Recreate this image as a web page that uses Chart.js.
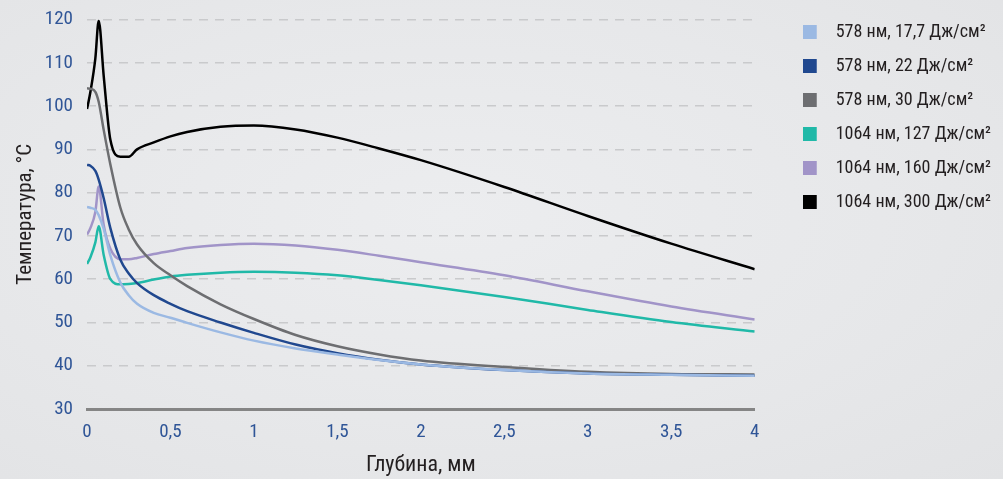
<!DOCTYPE html>
<html>
<head>
<meta charset="utf-8">
<script src="https://cdn.jsdelivr.net/npm/chart.js@4/dist/chart.umd.min.js"></script>
<style>
  html, body { margin: 0; padding: 0; }
  body {
    width: 1003px; height: 479px; overflow: hidden;
    background: radial-gradient(ellipse at 45% 45%, #ecedef 0%, #e7e8ea 55%, #e2e3e5 100%);
  }
  #wrap { position: relative; width: 1003px; height: 479px; }
</style>
</head>
<body>
<div id="wrap"><canvas id="chart"></canvas></div>
<script>
// Depth, mm (shared x values for every series)
const depth = [0, 0.02, 0.05, 0.07, 0.1, 0.14, 0.2, 0.25, 0.3, 0.4, 0.5, 0.6, 0.8, 1.0, 1.25, 1.5, 1.75, 2.0, 2.5, 3.0, 3.5, 4.0];

// Temperature, °C
const t578_17 = [76.7, 76.5, 76.0, 74.8, 71.6, 65.5, 59.2, 56.3, 54.3, 52.2, 51.1, 49.9, 47.7, 45.8, 44.0, 42.6, 41.3, 40.3, 39.0, 38.2, 37.9, 37.7];
const t578_22 = [86.4, 86.2, 85.0, 83.0, 78.7, 71.8, 64.5, 61.3, 59.1, 56.3, 54.3, 52.6, 50.0, 47.6, 44.9, 42.9, 41.4, 40.3, 39.0, 38.2, 37.9, 37.7];
const t578_30 = [104.1, 104.0, 103.3, 101.0, 94.5, 86.5, 76.5, 71.5, 68.0, 63.7, 60.9, 58.4, 54.2, 50.8, 47.1, 44.5, 42.6, 41.2, 39.7, 38.6, 38.1, 38.0];
const t1064_127 = [63.5, 65.0, 68.5, 72.2, 65.6, 60.0, 58.8, 58.9, 59.1, 59.9, 60.6, 61.0, 61.5, 61.7, 61.5, 60.9, 59.8, 58.6, 55.9, 52.9, 50.1, 47.9];
const t1064_160 = [70.3, 71.8, 75.5, 81.4, 72.5, 67.0, 64.6, 64.6, 64.9, 65.8, 66.5, 67.2, 67.9, 68.2, 67.8, 66.8, 65.4, 63.9, 60.9, 57.2, 53.7, 50.7];
const t1064_300 = [99.3, 103.2, 111.0, 119.7, 107.0, 92.2, 88.3, 88.3, 90.0, 91.6, 93.0, 94.0, 95.2, 95.5, 94.6, 92.7, 90.2, 87.5, 81.3, 74.6, 68.2, 62.3];

const seriesNames = [
  '578 нм, 17,7 Дж/см²',
  '578 нм, 22 Дж/см²',
  '578 нм, 30 Дж/см²',
  '1064 нм, 127 Дж/см²',
  '1064 нм, 160 Дж/см²',
  '1064 нм, 300 Дж/см²',
];
const seriesData = [t578_17, t578_22, t578_30, t1064_127, t1064_160, t1064_300];
const seriesColors = ['#9bb9e3', '#20488f', '#6d6e71', '#20b9a8', '#a194c8', '#000000'];

const FONT = '"Liberation Sans Narrow", "Roboto Condensed", "DejaVu Sans Condensed", "Arial Narrow", sans-serif';
const TICK_COLOR = '#2f5597';
const TEXT_COLOR = '#231f20';
const LEGEND_GAP = 38;

const toPoints = (vals) => vals.map((v, i) => ({ x: depth[i], y: v }));

// legend swatch: square at the left of a wider transparent image,
// so the label text sits further from the box
function swatch(color) {
  const c = document.createElement('canvas');
  c.width = 30;
  c.height = 14;
  const g = c.getContext('2d');
  g.fillStyle = color;
  g.fillRect(0, 0, 14, 14);
  return c;
}

// pushes the legend away from the plot area
const legendGap = {
  id: 'legendGap',
  beforeUpdate(chart) {
    const legend = chart.legend;
    if (!legend || legend._gapPatched) return;
    const fit = legend.fit.bind(legend);
    legend.fit = () => { fit(); legend.width += LEGEND_GAP; };
    legend._gapPatched = true;
  },
  afterLayout(chart) {
    chart.legend.left += LEGEND_GAP;
    chart.legend.top += 7;
  },
};

new Chart(document.getElementById('chart'), {
  type: 'line',
  data: {
    datasets: seriesData.map((vals, i) => ({
      label: seriesNames[i],
      data: toPoints(vals),
      borderColor: seriesColors[i],
      backgroundColor: seriesColors[i],
      borderWidth: 2.5,
      pointRadius: 0,
      pointStyle: swatch(seriesColors[i]),
      cubicInterpolationMode: 'monotone',
      fill: false,
    })),
  },
  options: {
    responsive: true,
    maintainAspectRatio: false,
    animation: false,
    layout: { padding: { top: 0, right: 2, left: 13, bottom: 0 } },
    plugins: {
      tooltip: { enabled: false },
      legend: {
        position: 'right',
        align: 'start',
        labels: {
          usePointStyle: true,
          boxWidth: 18,
          boxHeight: 14,
          padding: 16,
          color: TEXT_COLOR,
          font: { family: FONT, size: 18 },
        },
      },
    },
    scales: {
      x: {
        type: 'linear',
        min: 0,
        max: 4,
        grid: { display: false, drawTicks: false },
        border: { display: true, color: '#858585', width: 3 },
        ticks: {
          stepSize: 0.5,
          padding: 12,
          color: TICK_COLOR,
          font: { family: FONT, size: 19 },
          callback: (v) => String(v).replace('.', ','),
        },
        title: {
          display: true,
          text: 'Глубина, мм',
          color: TEXT_COLOR,
          font: { family: FONT, size: 22 },
          padding: { top: 0, bottom: 0 },
        },
        afterFit: (scale) => { scale.height = 70; },
      },
      y: {
        min: 30,
        max: 120,
        grid: {
          drawTicks: false,
          color: (ctx) => (ctx.tick && ctx.tick.value === 30 ? 'rgba(0,0,0,0)' : '#c9cacc'),
          lineWidth: 1.5,
        },
        border: { display: false, dash: [9, 7] },
        ticks: {
          stepSize: 10,
          padding: 14,
          color: TICK_COLOR,
          font: { family: FONT, size: 19 },
        },
        title: {
          display: true,
          text: 'Температура, °C',
          color: TEXT_COLOR,
          font: { family: FONT, size: 21 },
          padding: { top: 0, bottom: 0 },
        },
        afterFit: (scale) => {
          scale.width = 74;
          scale.paddingTop = 19.5;
        },
      },
    },
  },
  plugins: [legendGap],
});
</script>
</body>
</html>
